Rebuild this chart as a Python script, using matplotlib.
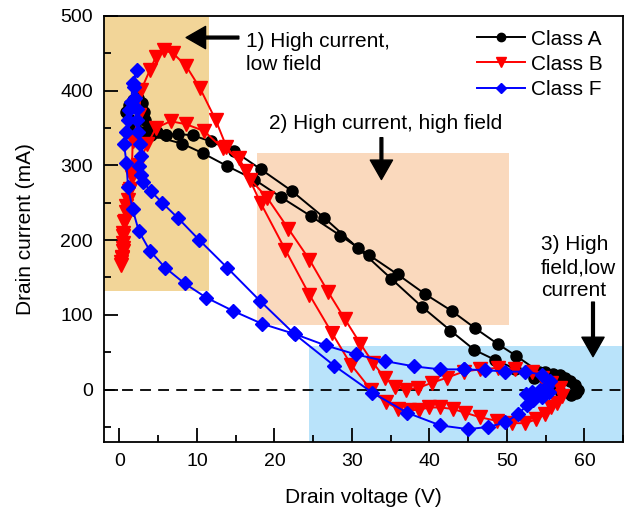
import matplotlib.pyplot as plt
from matplotlib.patches import Rectangle
from matplotlib.ticker import MultipleLocator

# drain voltage (V) / drain current (mA) along each load-line loop
class_a_v = [6.0, 7.6, 9.5, 11.8, 14.8, 18.2, 22.2, 26.4, 30.8, 35.1,
             39.0, 42.7, 45.8, 48.4, 51.0, 53.5, 55.5, 57.0, 58.3, 58.9,
             59.2, 58.8, 58.1, 57.5, 56.8, 56.0, 54.9, 54.1, 51.2, 48.8,
             45.9, 42.9, 39.4, 35.9, 32.2, 28.5, 24.7, 20.9, 17.4, 13.9,
             10.8, 8.1, 4.1, 3.0, 2.0, 1.2, 0.9, 1.2, 1.8, 2.4,
             2.9, 3.1, 3.3, 3.8, 4.8, 6.0]
class_a_i = [341, 342, 340, 332, 319, 295, 266, 230, 189, 148,
             111, 79, 53, 40, 28, 15, 4, -4, -7, -5,
             0, 6, 11, 16, 19, 21, 23, 24, 45, 61,
             82, 105, 128, 154, 180, 206, 232, 257, 281, 299,
             316, 329, 340, 345, 352, 362, 372, 381, 388, 390,
             384, 372, 360, 350, 344, 341]

class_b_v = [0.2, 0.3, 0.4, 0.5, 0.5, 0.6, 0.9, 1.1, 1.4, 1.6,
             1.7, 2.5, 2.8, 3.9, 4.7, 5.7, 6.9, 8.6, 10.4, 12.4,
             13.8, 16.3, 18.2, 21.4, 24.5, 27.4, 29.9, 32.5, 34.4, 36.0,
             37.3, 38.6, 40.0, 41.4, 43.0, 44.6, 46.5, 48.7, 50.6, 52.3,
             53.8, 54.9, 55.7, 56.4, 57.1, 56.8, 55.7, 54.5, 53.2, 51.0,
             48.9, 46.5, 44.4, 42.3, 40.3, 38.5, 37.0, 35.6, 34.2, 32.7,
             31.1, 29.1, 26.9, 24.5, 21.8, 19.1, 16.9, 15.4, 13.3, 10.9,
             8.6, 6.6, 4.7, 3.6, 2.4, 1.6, 1.2, 0.9, 0.7, 0.5,
             0.4, 0.3, 0.2]
class_b_i = [167, 176, 185, 196, 209, 224, 238, 254, 268, 292,
             332, 368, 401, 427, 445, 454, 450, 433, 403, 361,
             325, 292, 250, 187, 127, 76, 33, -1, -17, -26,
             -28, -27, -24, -24, -26, -31, -37, -42, -45, -45,
             -40, -33, -24, -18, -9, 2, 9, 16, 24, 27,
             29, 27, 24, 16, 9, 2, 0, 4, 16, 36,
             61, 94, 131, 174, 215, 256, 281, 310, 323, 346,
             355, 359, 350, 328, 301, 285, 265, 245, 225, 205,
             190, 178, 170]

class_f_v = [44.4, 47.2, 49.8, 52.3, 54.5, 55.5, 55.2, 54.3, 53.2, 52.5,
             53.5, 54.8, 55.4, 54.5, 53.3, 52.6, 51.4, 49.8, 47.6, 45.0,
             41.4, 37.1, 32.6, 27.7, 22.5, 18.1, 13.9, 10.3, 7.5, 5.5,
             4.1, 3.0, 2.8, 2.5, 2.8, 2.6, 2.4, 2.2, 2.3, 2.0,
             1.9, 2.2, 1.7, 1.5, 1.2, 1.1, 0.9, 0.6, 0.9, 1.1,
             1.7, 2.5, 3.9, 5.9, 8.4, 11.2, 14.7, 18.4, 22.7, 26.6,
             30.5, 34.3, 38.0, 41.4, 44.4]
class_f_i = [27, 26, 24, 24, 20, 12, 5, 0, -3, -6,
             -8, -6, -3, -10, -14, -21, -33, -44, -50, -53,
             -48, -31, -4, 32, 75, 119, 163, 200, 230, 250,
             265, 278, 287, 299, 312, 328, 345, 360, 375, 390,
             405, 428, 410, 385, 374, 361, 345, 328, 303, 271,
             241, 212, 186, 163, 142, 123, 105, 88, 74, 59,
             47, 38, 31, 27, 27]

# operating regions: (x0, y0, width, height)
region_low_field = (-2, 132, 13.6, 368)
region_high_field = (17.8, 87, 32.4, 229)
region_low_current = (24.4, -70, 40.6, 128)

plt.rcParams["font.family"] = ["Liberation Sans", "DejaVu Sans"]

fig = plt.figure(figsize=(6.34, 5.12), dpi=100)
ax = fig.add_axes([0.164, 0.137, 0.819, 0.832])

ax.add_patch(Rectangle(region_low_field[:2], *region_low_field[2:],
                       color="#F2D598", lw=0, zorder=0))
ax.add_patch(Rectangle(region_high_field[:2], *region_high_field[2:],
                       color="#FAD9BD", lw=0, zorder=0))
ax.add_patch(Rectangle(region_low_current[:2], *region_low_current[2:],
                       color="#B9E3FA", lw=0, zorder=0))

ax.axhline(0, color="black", lw=1.3, ls=(0, (6, 4)), zorder=1)

ax.plot(class_a_v, class_a_i, color="black", marker="o", ms=8, lw=1.4,
        label="Class A", zorder=3)
ax.plot(class_b_v, class_b_i, color="red", marker="v", ms=9.5, lw=1.4,
        label="Class B", zorder=4)
ax.plot(class_f_v, class_f_i, color="blue", marker="D", ms=7.2, lw=1.4,
        label="Class F", zorder=5)

arrow_style = dict(facecolor="black", edgecolor="black", width=2,
                   headwidth=16, headlength=14)
ax.annotate("", xy=(8.6, 471), xytext=(15.4, 471), arrowprops=arrow_style)
ax.annotate("", xy=(33.8, 281), xytext=(33.8, 337), arrowprops=arrow_style)
ax.annotate("", xy=(61.1, 44), xytext=(61.1, 117), arrowprops=arrow_style)

ax.text(16.3, 450, "1) High current,\nlow field", fontsize=15,
        ha="left", va="center", linespacing=1.25)
ax.text(19.3, 356, "2) High current, high field", fontsize=15,
        ha="left", va="center")
ax.text(54.4, 163, "3) High\nfield,low\ncurrent", fontsize=15,
        ha="left", va="center", linespacing=1.25)

ax.set_xlim(-2, 65)
ax.set_ylim(-70, 500)
ax.xaxis.set_major_locator(MultipleLocator(10))
ax.xaxis.set_minor_locator(MultipleLocator(5))
ax.yaxis.set_major_locator(MultipleLocator(100))
ax.yaxis.set_minor_locator(MultipleLocator(50))
ax.tick_params(which="both", direction="in", width=1.3, labelsize=14,
               top=False, right=False, pad=8)
ax.tick_params(which="major", length=10)
ax.tick_params(which="minor", length=5)
for spine in ax.spines.values():
    spine.set_linewidth(1.3)

ax.set_xlabel("Drain voltage (V)", fontsize=15, labelpad=13)
ax.set_ylabel("Drain current (mA)", fontsize=15, labelpad=18)

ax.legend(loc="upper right", bbox_to_anchor=(0.997, 1.012), frameon=False,
          fontsize=15, handlelength=2.3, handletextpad=0.3,
          labelspacing=0.3, markerscale=0.75)

fig.savefig("out.png", dpi=100)
